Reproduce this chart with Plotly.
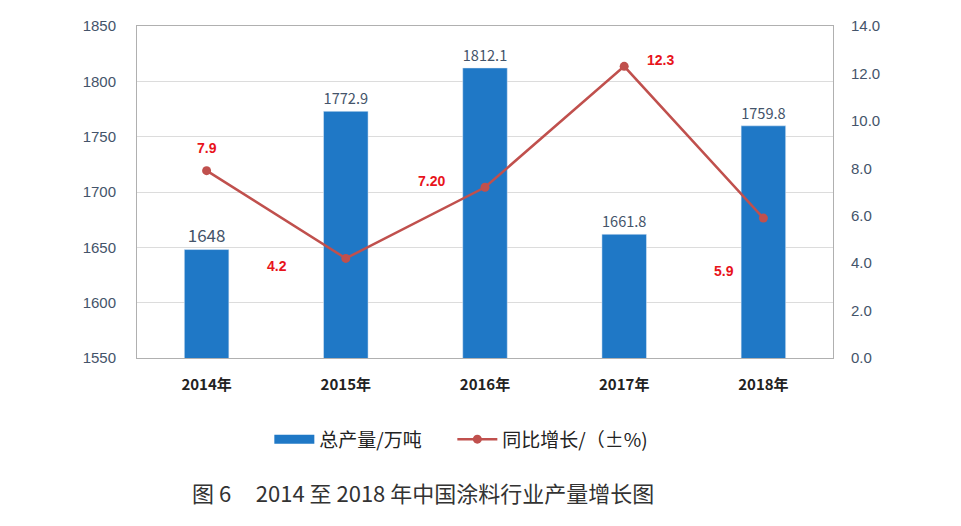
import plotly.graph_objects as go

years = ["2014年", "2015年", "2016年", "2017年", "2018年"]
output = [1648, 1772.9, 1812.1, 1661.8, 1759.8]
growth = [7.9, 4.2, 7.2, 12.3, 5.9]
growth_labels = ["7.9", "4.2", "7.20", "12.3", "5.9"]
left_ticks = [1550, 1600, 1650, 1700, 1750, 1800, 1850]
right_ticks = [0, 2, 4, 6, 8, 10, 12, 14]

# label offsets (pixels) for growth labels
label_shift = [(0, 23), (-69, -8), (-54, 6), (36, 6), (-39, -53)]

FONT = "Noto Sans CJK SC"
BLUE = "#1f78c6"
RED = "#c0504d"

fig = go.Figure()

fig.add_trace(go.Bar(
    x=years, y=output, name="总产量/万吨", marker_color=BLUE, showlegend=False,
    width=0.32, text=[f"{v:g}" for v in output], textposition="outside",
    textfont=dict(family=FONT, size=17, color="#44546a"), cliponaxis=False,
))

# legend entry for the bars (wide rectangle swatch)
fig.add_trace(go.Scatter(
    x=[None], y=[None], name="总产量/万吨      ", mode="lines",
    line=dict(color=BLUE, width=9),
))

fig.add_trace(go.Scatter(
    x=years, y=growth, name="同比增长/（±%)", yaxis="y2", mode="lines+markers",
    line=dict(color=RED, width=2.5), marker=dict(size=9, color=RED),
))

for i, (yr, g, lab) in enumerate(zip(years, growth, growth_labels)):
    dx, dy = label_shift[i]
    fig.add_annotation(
        x=yr, y=g, xref="x", yref="y2", text=f"<b>{lab}</b>", showarrow=False,
        xshift=dx, yshift=dy, font=dict(family="Liberation Sans", size=14, color="#e8141b"),
    )

fig.update_layout(
    width=953, height=518,
    margin=dict(l=129, r=128, t=18, b=168),
    paper_bgcolor="white", plot_bgcolor="white",
    font=dict(family=FONT),
    xaxis=dict(
        showline=True, linecolor="#b0b0b0", mirror=True, automargin=False,
        tickfont=dict(family=FONT, size=15, color="#222"),
        tickvals=years, ticktext=[f"<b>{y}</b>" for y in years],
        ticklabelstandoff=13,
    ),
    yaxis=dict(
        range=[1550, 1850], tickvals=left_ticks, showgrid=True, gridcolor="#dcdcdc",
        showline=True, linecolor="#b0b0b0", mirror=True, zeroline=False, automargin=False,
        tickfont=dict(family="Liberation Sans", size=15, color="#44546a"),
        ticklabelstandoff=17,
    ),
    yaxis2=dict(
        range=[0, 14], tickvals=right_ticks, tickformat=".1f", overlaying="y", side="right",
        showgrid=False, zeroline=False, automargin=False,
        tickfont=dict(family="Liberation Sans", size=15, color="#44546a"),
        ticklabelstandoff=17,
    ),
    legend=dict(
        orientation="h", x=0.466, y=-0.245, xanchor="center", yanchor="middle",
        font=dict(family=FONT, size=19, color="#222"), bgcolor="rgba(0,0,0,0)",
        itemwidth=40, traceorder="normal",
    ),
)

fig.add_annotation(
    text="图 6     2014 至 2018 年中国涂料行业产量增长图", xref="paper", yref="paper",
    x=0.076, y=-0.405, xanchor="left", yanchor="middle", showarrow=False,
    font=dict(family=FONT, size=22, color="#333"),
)

fig.write_html("out.html")
